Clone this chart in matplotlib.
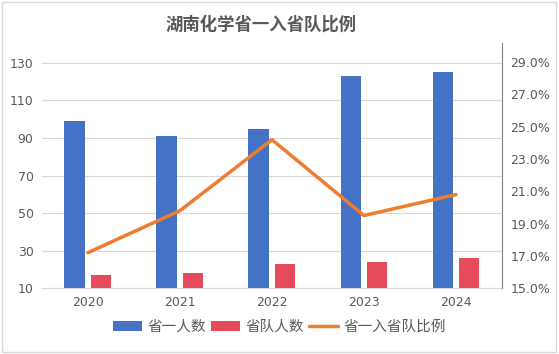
import numpy as np
import matplotlib.pyplot as plt
from matplotlib.patches import Rectangle

plt.rcParams['font.family'] = ['DejaVu Sans', 'Noto Sans CJK SC']

years = ["2020", "2021", "2022", "2023", "2024"]
top_count = [99, 91, 95, 123, 125]     # 省一人数
team_count = [17, 18, 23, 24, 26]      # 省队人数
ratio = [17.2, 19.8, 24.2, 19.5, 20.8]  # 省一入省队比例 (%)

blue = "#4472C4"
red = "#E64B5D"
orange = "#ED7D31"
txt = "#595959"

fig = plt.figure(figsize=(5.59, 3.54), dpi=100)
ax = fig.add_axes([0.075, 0.186, 0.823, 0.693])
ax2 = ax.twinx()

x = np.arange(len(years))
w = 0.22
b1 = ax.bar(x - 0.145, np.array(top_count) - 10, w, bottom=10, color=blue, label="省一人数", zorder=3)
b2 = ax.bar(x + 0.145, np.array(team_count) - 10, w, bottom=10, color=red, label="省队人数", zorder=3)
l1, = ax2.plot(x, ratio, color=orange, lw=2.5, label="省一入省队比例", solid_capstyle='round')

ax.set_xlim(-0.5, 4.5)
ax.set_ylim(10, 140.7)
ax.set_yticks(range(10, 131, 20))
ax2.set_ylim(15, 30.2)
ax2.set_yticks(np.arange(15, 29.1, 2))
ax2.set_yticklabels([f"{v:.1f}%" for v in np.arange(15, 29.1, 2)])

ax.set_xticks(x)
ax.set_xticklabels(years)
ax.grid(axis='y', color="#D9D9D9", lw=0.8, zorder=0)
for a in (ax, ax2):
    for s in ("top", "left", "bottom", "right"):
        a.spines[s].set_visible(False)
ax2.spines["right"].set_visible(True)
ax2.spines["right"].set_color("#808080")
ax.spines["bottom"].set_visible(True)
ax.spines["bottom"].set_color("#D9D9D9")
ax.tick_params(axis='both', length=0, labelsize=9, labelcolor=txt, pad=6)
ax2.tick_params(axis='y', length=0, labelsize=9, labelcolor=txt, pad=6)

fig.text(0.467, 0.93, "湖南化学省一入省队比例", ha='center', va='center',
         fontsize=12.5, fontweight='bold', color=txt, family=['Noto Sans CJK SC'])

fig.legend([b1, b2, l1], ["省一人数", "省队人数", "省一入省队比例"],
           loc='center', bbox_to_anchor=(0.5, 0.076), ncol=3, frameon=False,
           prop={'family': 'Noto Sans CJK SC', 'size': 10.5}, labelcolor=txt,
           handlelength=2.0, handletextpad=0.4, columnspacing=0.3)

fig.patches.append(Rectangle((0.004, 0.006), 0.99, 0.988, transform=fig.transFigure,
                             fill=False, edgecolor="#D9D9D9", lw=1))

fig.savefig("out.png", dpi=100)
